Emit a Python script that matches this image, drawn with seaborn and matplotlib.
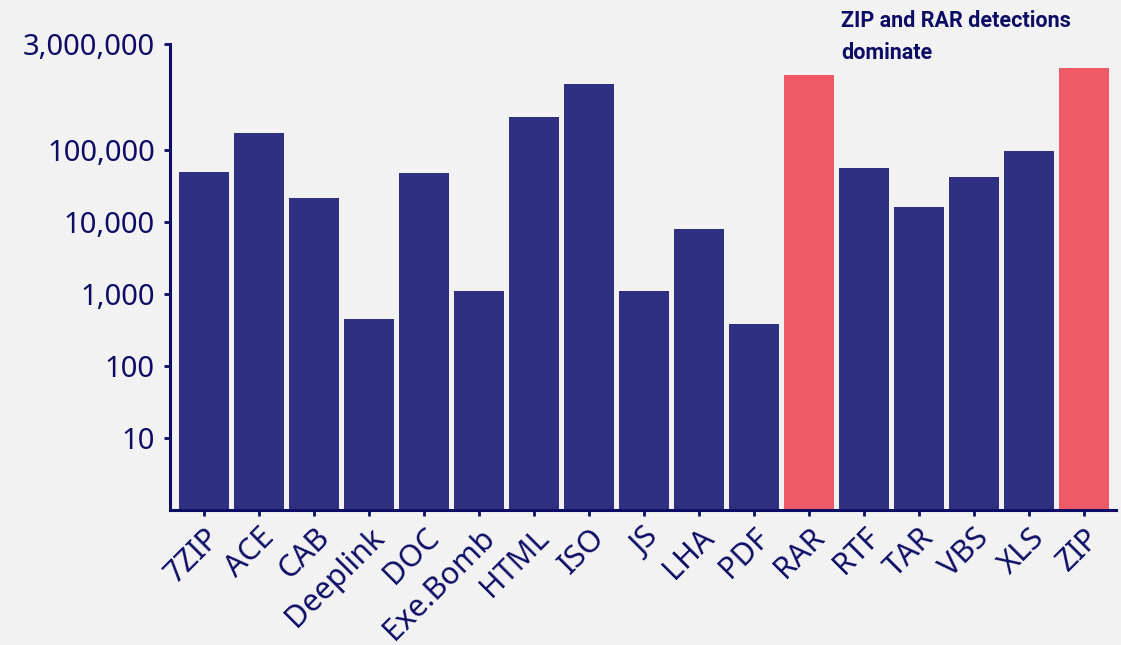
import numpy as np
import pandas as pd
import seaborn as sns
import matplotlib as mpl
import matplotlib.pyplot as plt
from matplotlib.ticker import FixedLocator, FixedFormatter, NullLocator

# -------------------------
# Data
# -------------------------
file_types = ['7ZIP', 'ACE', 'CAB', 'Deeplink', 'DOC', 'Exe.Bomb', 'HTML',
              'ISO', 'JS', 'LHA', 'PDF', 'RAR', 'RTF', 'TAR', 'VBS', 'XLS',
              'ZIP']
detections = [50000, 174000, 21800, 454, 48400, 1110, 290000,
              834000, 1110, 8080, 386, 1110000, 56800, 16300, 42600, 97700,
              1390000]
highlight = ['RAR', 'ZIP']

y_ticks = [10, 100, 1000, 10000, 100000, 3000000]
y_tick_labels = ['10', '100', '1,000', '10,000', '100,000', '3,000,000']

# -------------------------
# Configuration
# -------------------------
bg = '#f2f2f2'
navy = '#0d0d66'
bar_blue = '#2f3081'
bar_red = '#ef5a66'

sns.set_theme(style='white')
plt.rcParams['font.family'] = ['Noto Sans', 'DejaVu Sans']

df = pd.DataFrame({'type': file_types, 'count': detections})
palette = {t: (bar_red if t in highlight else bar_blue) for t in file_types}

# -------------------------
# Plot
# -------------------------
fig = plt.figure(figsize=(11.21, 6.45), dpi=100, facecolor=bg)
ax = fig.add_axes([0.1517, 0.2093, 0.9955 - 0.1517, 0.9318 - 0.2093])
ax.set_facecolor(bg)

sns.barplot(data=df, x='type', y='count', hue='type', palette=palette,
            legend=False, width=0.91, saturation=1, linewidth=0, ax=ax)

ax.set_yscale('log')
ax.set_ylim(1, 3000000)
ax.set_xlim(-0.62, 16.58)
ax.yaxis.set_major_locator(FixedLocator(y_ticks))
ax.yaxis.set_major_formatter(FixedFormatter(y_tick_labels))
ax.yaxis.set_minor_locator(NullLocator())

ax.set_xlabel('')
ax.set_ylabel('')

sns.despine(ax=ax)
for side in ['left', 'bottom']:
    ax.spines[side].set_color(navy)
    ax.spines[side].set_linewidth(2.2)

ax.tick_params(axis='y', colors=navy, labelsize=21, length=4, width=2,
               pad=7, left=True)
ax.tick_params(axis='x', colors=navy, labelsize=22, length=4, width=2,
               pad=5, bottom=True)
for lab in ax.get_xticklabels():
    lab.set_rotation(45)
    lab.set_ha('right')
    lab.set_rotation_mode('anchor')

fig.text(0.750, 0.985, 'ZIP and RAR detections\ndominate', ha='left',
         va='top', fontsize=15.5, fontweight='bold', color=navy,
         family=['Roboto', 'DejaVu Sans'], linespacing=1.6)

fig.savefig('out.png', dpi=100, facecolor=bg)
